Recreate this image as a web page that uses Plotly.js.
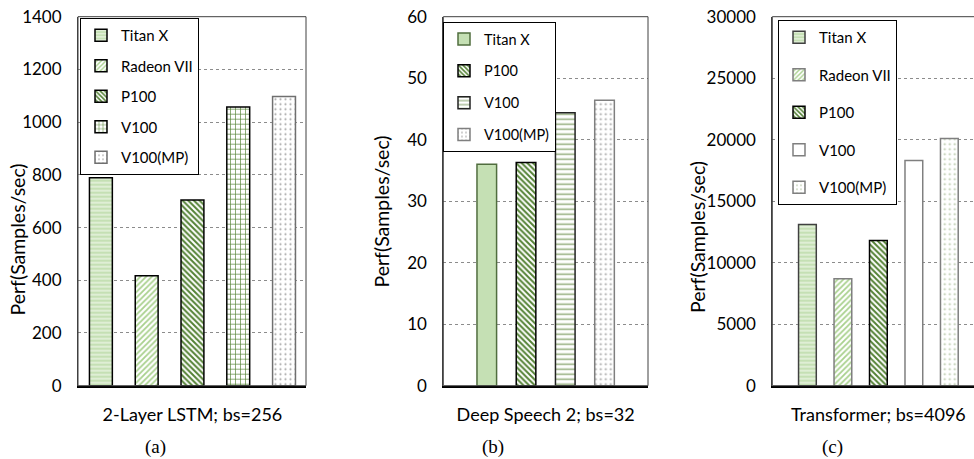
<!DOCTYPE html>
<html>
<head>
<meta charset="utf-8">
<script src="https://cdn.plot.ly/plotly-3.0.1.min.js"></script>
<style>
  html, body { margin: 0; padding: 0; background: #fff; overflow: hidden; }
  #chart { width: 974px; height: 459px; }
</style>
</head>
<body>
<div id="chart"></div>
<script>
// ---- data ----
const workloads = ['2-Layer LSTM; bs=256', 'Deep Speech 2; bs=32', 'Transformer; bs=4096'];
const gpusA = ['Titan X', 'Radeon VII', 'P100', 'V100', 'V100(MP)'];
const perfA = [789, 417, 705, 1057, 1097];
const gpusB = ['Titan X', 'P100', 'V100', 'V100(MP)'];
const perfB = [36.0, 36.3, 44.4, 46.4];
const gpusC = ['Titan X', 'Radeon VII', 'P100', 'V100', 'V100(MP)'];
const perfC = [13100, 8700, 11800, 18300, 20100];
const panelLabels = ['(a)', '(b)', '(c)'];
const yTitle = 'Perf(Samples/sec)';

// ---- styles ----
const W = 974, H = 459;
const px = v => v / W;
const py = v => 1 - v / H;
const FONT = 'Lato, "Open Sans", sans-serif';

const styles = {
  A: [
    {color: '#c5e0b4', line: '#000000', pattern: {shape: '-', bgcolor: '#c5e0b4', fgcolor: '#e6f2de', size: 4, solidity: 0.4}},
    {color: '#ffffff', line: '#000000', pattern: {shape: '/', bgcolor: '#ffffff', fgcolor: '#a9d18e', size: 4, solidity: 0.45}},
    {color: '#ffffff', line: '#000000', pattern: {shape: '\\', bgcolor: '#ffffff', fgcolor: '#548235', size: 4, solidity: 0.5}},
    {color: '#ffffff', line: '#000000', pattern: {shape: '+', bgcolor: '#ffffff', fgcolor: '#548235', size: 5, solidity: 0.25}},
    {color: '#ffffff', line: '#6f6f6f', pattern: {shape: '.', bgcolor: '#ffffff', fgcolor: '#a6a6a6', size: 5, solidity: 0.15}}
  ],
  B: [
    {color: '#c5e0b4', line: '#506d3e', pattern: null},
    {color: '#ffffff', line: '#000000', pattern: {shape: '\\', bgcolor: '#ffffff', fgcolor: '#548235', size: 4, solidity: 0.5}},
    {color: '#ffffff', line: '#222222', pattern: {shape: '-', bgcolor: '#ffffff', fgcolor: '#93ad7c', size: 5, solidity: 0.3}},
    {color: '#ffffff', line: '#7f7f7f', pattern: {shape: '.', bgcolor: '#ffffff', fgcolor: '#a6a6a6', size: 5, solidity: 0.15}}
  ],
  C: [
    {color: '#c5e0b4', line: '#404040', pattern: {shape: '-', bgcolor: '#c5e0b4', fgcolor: '#e6f2de', size: 4, solidity: 0.4}},
    {color: '#ffffff', line: '#7f7f7f', pattern: {shape: '/', bgcolor: '#ffffff', fgcolor: '#a9d18e', size: 4, solidity: 0.45}},
    {color: '#ffffff', line: '#000000', pattern: {shape: '\\', bgcolor: '#ffffff', fgcolor: '#548235', size: 4, solidity: 0.5}},
    {color: '#ffffff', line: '#7f7f7f', pattern: null},
    {color: '#ffffff', line: '#7f7f7f', pattern: {shape: '.', bgcolor: '#ffffff', fgcolor: '#b9c9aa', size: 5, solidity: 0.15}}
  ]
};

function makeTraces(names, values, workload, st, ax, legendId) {
  return names.map((n, i) => {
    const m = {color: st[i].color, line: {color: st[i].line, width: 1.5}};
    if (st[i].pattern) m.pattern = Object.assign({fillmode: 'replace'}, st[i].pattern);
    return {
      type: 'bar', name: n, x: [workload], y: [values[i]],
      xaxis: 'x' + ax, yaxis: 'y' + ax, legend: legendId,
      legendgroup: legendId + '_' + i,
      marker: m, hoverinfo: 'name+y'
    };
  });
}

const traces = [].concat(
  makeTraces(gpusA, perfA, workloads[0], styles.A, '', 'legend'),
  makeTraces(gpusB, perfB, workloads[1], styles.B, '2', 'legend2'),
  makeTraces(gpusC, perfC, workloads[2], styles.C, '3', 'legend3')
);

const yDom = [py(385.7), py(16.7)];
const tickFont = {family: FONT, size: 17, color: '#000'};

function xAxis(dom, range, anchor) {
  return {
    domain: dom, range: range, anchor: anchor, type: 'category',
    showline: true, linecolor: '#000', linewidth: 1.5, mirror: false,
    showgrid: false, ticks: '', tickfont: {family: FONT, size: 18, color: '#000'},
    ticklabelstandoff: 12, fixedrange: true
  };
}
function yAxis(range, dtick, anchor) {
  return {
    domain: yDom, range: range, dtick: dtick, anchor: anchor, tickformat: 'd',
    showline: true, linecolor: '#404040', linewidth: 1,
    showgrid: true, gridcolor: '#8c8c8c', griddash: 'dot', gridwidth: 1,
    zeroline: false, ticks: '', tickfont: tickFont, ticklabelstandoff: 12,
    fixedrange: true
  };
}

const legendBase = {
  xanchor: 'left', yanchor: 'top', bgcolor: '#ffffff', bordercolor: '#000',
  borderwidth: 1, font: {family: FONT, size: 15, color: '#000'},
  traceorder: 'grouped', itemclick: false, itemdoubleclick: false
};

function border(ax, x1) {
  return {type: 'rect', xref: 'x' + ax + ' domain', yref: 'y' + ax + ' domain',
    x0: 0, x1: x1, y0: 0, y1: 1, line: {color: '#404040', width: 1}, layer: 'above'};
}

const annFont = {family: FONT, size: 19.5, color: '#000'};
const capFont = {family: '"Liberation Serif", "Times New Roman", serif', size: 19, color: '#000'};
const annotations = [
  {x: px(17), y: py(239.5), text: yTitle},
  {x: px(381), y: py(211.5), text: yTitle},
  {x: px(697), y: py(237), text: yTitle}
].map(a => Object.assign(a, {xref: 'paper', yref: 'paper', showarrow: false, textangle: -90,
  font: annFont, xanchor: 'center', yanchor: 'middle'}));
[[155.5, 446.7], [493, 446.7], [832, 446.5]].forEach((p, i) => {
  annotations.push({x: px(p[0]), y: py(p[1]), text: panelLabels[i], xref: 'paper', yref: 'paper',
    showarrow: false, font: capFont, xanchor: 'center', yanchor: 'middle'});
});

const layout = {
  width: W, height: H,
  margin: {l: 0, r: 0, t: 0, b: 0},
  paper_bgcolor: '#fff', plot_bgcolor: '#fff',
  barmode: 'group', bargap: 0, bargroupgap: 0.5,
  showlegend: true,
  xaxis: xAxis([px(78), px(306)], [-0.5, 0.496], 'y'),
  yaxis: yAxis([0, 1400], 200, 'x'),
  xaxis2: xAxis([px(443.3), px(648)], [-0.652, 0.652], 'y2'),
  yaxis2: yAxis([0, 60], 10, 'x2'),
  xaxis3: xAxis([px(772.3), 1], [-0.598, 0.539], 'y3'),
  yaxis3: yAxis([0, 30000], 5000, 'x3'),
  legend: Object.assign({}, legendBase, {x: px(80), y: py(18), tracegroupgap: 8}),
  legend2: Object.assign({}, legendBase, {x: px(443), y: py(22), tracegroupgap: 10,
    font: {family: FONT, size: 14.5, color: '#000'}}),
  legend3: Object.assign({}, legendBase, {x: px(778), y: py(20), tracegroupgap: 15}),
  shapes: [border('', 1), border('2', 1), border('3', 1.05)],
  annotations: annotations
};

Plotly.newPlot('chart', traces, layout, {displayModeBar: false, staticPlot: false, responsive: false});
</script>
</body>
</html>
